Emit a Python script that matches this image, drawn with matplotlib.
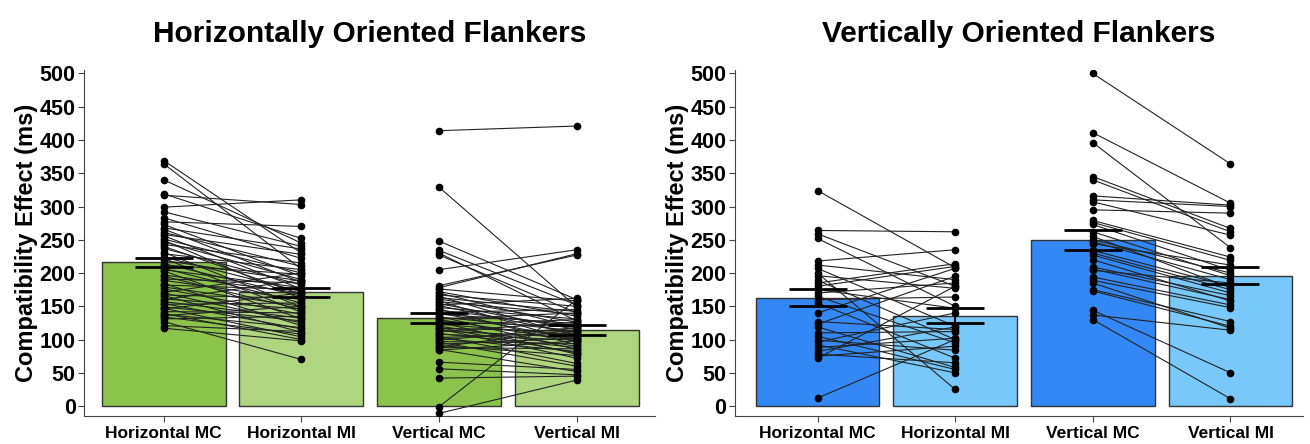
import numpy as np
import matplotlib
matplotlib.use('Agg')
import matplotlib.pyplot as plt

plt.rcParams['font.family'] = ['Liberation Sans', 'DejaVu Sans']
plt.rcParams['font.weight'] = 'bold'

conditions = ['Horizontal MC', 'Horizontal MI', 'Vertical MC', 'Vertical MI']

# left panel: horizontally oriented flankers (per-subject compatibility effects, ms)
h_mc_left = [369, 364, 340, 319, 317, 299, 292, 283, 277, 273,
             268, 266, 261, 258, 256, 251, 249, 247, 243, 240,
             237, 231, 229, 224, 222, 219, 214, 212, 207, 205,
             203, 197, 195, 191, 189, 184, 182, 179, 176, 171,
             170, 167, 166, 161, 160, 157, 154, 153, 149, 147,
             146, 142, 139, 138, 136, 134, 131, 127, 121, 117]
h_mi_left = [230, 206, 245, 252, 303, 310, 240, 222, 270, 195,
             236, 186, 210, 228, 176, 200, 161, 190, 215, 168,
             182, 149, 205, 172, 141, 188, 165, 198, 155, 178,
             131, 170, 145, 185, 160, 121, 175, 150, 138, 200,
             125, 162, 111, 146, 190, 132, 116, 155, 128, 104,
             170, 140, 100, 118, 150, 108, 135, 70, 112, 98]
v_mc_left = [414, 329, 248, 234, 230, 227, 205, 178, 176, 181,
             172, 170, 167, 165, 163, 161, 158, 157, 154, 152,
             151, 148, 146, 144, 141, 140, 138, 135, 134, 131,
             130, 127, 126, 123, 122, 120, 117, 116, 113, 112,
             109, 108, 105, 103, 102, 99, 97, 96, 93, 91,
             89, 88, 85, 84, 66, 56, 42, 118, -1, -11]
v_mi_left = [421, 149, 160, 152, 128, 140, 235, 229, 158, 227,
             135, 118, 150, 105, 142, 126, 96, 138, 115, 162,
             108, 131, 92, 120, 145, 100, 124, 85, 113, 140,
             98, 119, 78, 107, 130, 90, 112, 72, 103, 126,
             88, 99, 64, 110, 82, 118, 94, 60, 102, 76,
             115, 86, 52, 98, 55, 47, 45, 80, 160, 39]
means_left = [216, 171, 133, 114]
se_left = [7, 6.5, 7.5, 7.5]

# right panel: vertically oriented flankers
h_mc_right = [324, 264, 259, 252, 218, 212, 207, 200, 196, 189,
              185, 175, 170, 165, 160, 155, 127, 123, 119, 110,
              99, 96, 92, 88, 82, 78, 75, 72, 140, 180,
              105, 12]
h_mi_right = [208, 262, 180, 150, 235, 190, 120, 25, 177, 100,
              214, 147, 185, 95, 164, 72, 115, 195, 58, 112,
              84, 140, 50, 102, 119, 65, 90, 180, 207, 210,
              55, 100]
v_mc_right = [500, 411, 396, 345, 340, 316, 310, 307, 295, 279,
              276, 273, 250, 247, 244, 234, 230, 227, 209, 206,
              204, 194, 189, 175, 173, 144, 137, 130, 262, 220,
              185, 255]
v_mi_right = [364, 305, 238, 267, 262, 302, 300, 257, 290, 224,
              219, 204, 200, 190, 212, 180, 175, 170, 166, 160,
              185, 152, 148, 127, 120, 50, 114, 11, 196, 158,
              117, 178]
means_right = [163, 136, 249, 196]
se_right = [13, 11, 15, 13]

green = ['#8CC34C', '#AFD580', '#8CC34C', '#AFD580']
blue = ['#3388F6', '#78C8FA', '#3388F6', '#78C8FA']


def panel(ax, title, h_mc, h_mi, v_mc, v_mi, means, ses, colors, xlim):
    x = np.arange(1, 5)
    ax.bar(x, means, width=0.9, color=colors, edgecolor='#333333', linewidth=1, zorder=1)
    for i, a, b in [(1, h_mc, h_mi), (3, v_mc, v_mi)]:
        for ya, yb in zip(a, b):
            ax.plot([i, i + 1], [ya, yb], '-', color='#222222', lw=0.8, zorder=2)
        ax.plot([i] * len(a), a, 'o', color='black', ms=4.5, zorder=3)
        ax.plot([i + 1] * len(b), b, 'o', color='black', ms=4.5, zorder=3)
    ax.errorbar(x, means, yerr=ses, fmt='none', ecolor='black', elinewidth=1.5,
                capsize=21, capthick=2, zorder=4)
    ax.set_xlim(*xlim)
    ax.set_ylim(-15, 505)
    ax.set_yticks(np.arange(0, 501, 50))
    ax.set_xticks(x)
    ax.set_xticklabels(conditions, fontsize=12.5, fontweight='bold',
                       family=['Liberation Sans Narrow', 'Liberation Sans', 'DejaVu Sans'])
    ax.tick_params(axis='y', labelsize=15.5, length=4, pad=2, color='#444444')
    ax.tick_params(axis='x', length=4, pad=3, color='#444444')
    ax.set_ylabel('Compatibility Effect (ms)', fontsize=17, fontweight='bold', labelpad=1)
    ax.set_title(title, fontsize=21.5, fontweight='bold', pad=20)
    for s in ['top', 'right']:
        ax.spines[s].set_visible(False)
    for s in ['left', 'bottom']:
        ax.spines[s].set_color('#444444')


fig = plt.figure(figsize=(13.1, 4.44), dpi=100)
ax1 = fig.add_axes([0.0641, 0.063, 0.436, 0.779])
ax2 = fig.add_axes([0.561, 0.063, 0.434, 0.779])

panel(ax1, 'Horizontally Oriented Flankers', h_mc_left, h_mi_left, v_mc_left, v_mi_left,
      means_left, se_left, green, (0.42, 4.57))
panel(ax2, 'Vertically Oriented Flankers', h_mc_right, h_mi_right, v_mc_right, v_mi_right,
      means_right, se_right, blue, (0.40, 4.53))

plt.savefig('out.png', dpi=100)
